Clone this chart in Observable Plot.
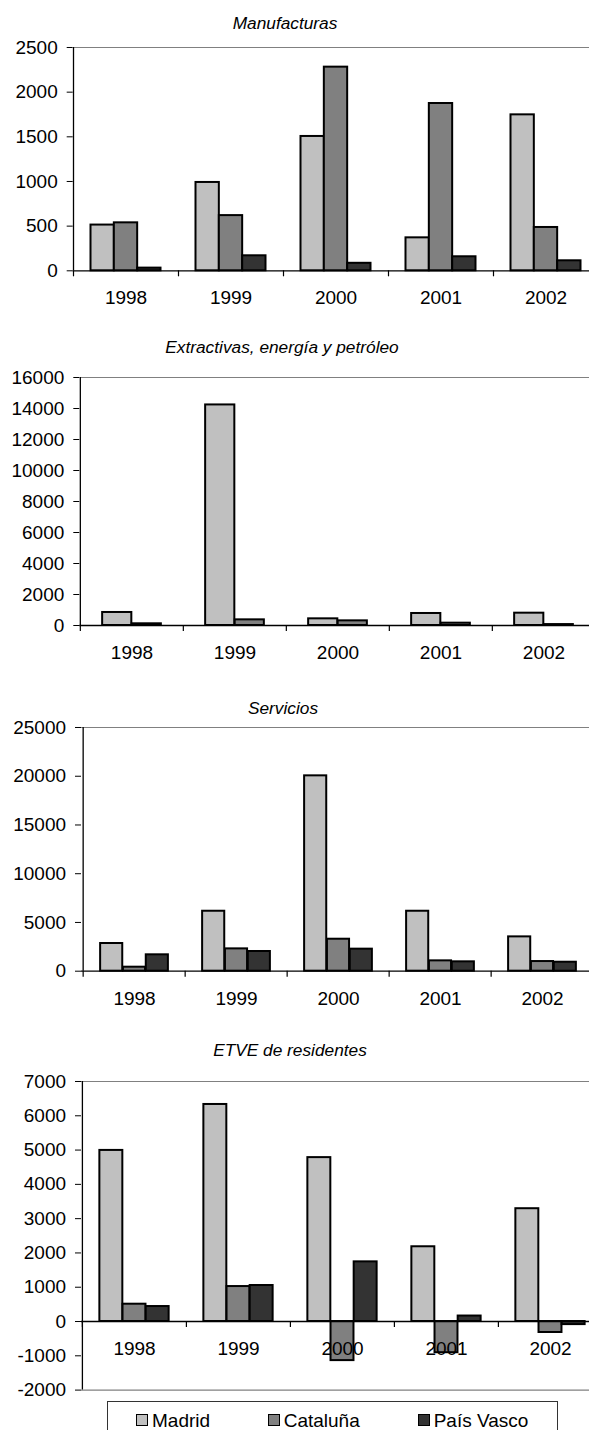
<!DOCTYPE html>
<html>
<head>
<meta charset="utf-8">
<script src="https://cdn.jsdelivr.net/npm/d3@7"></script>
<script src="https://cdn.jsdelivr.net/npm/@observablehq/plot@0.6"></script>
<style>
  html, body { margin: 0; padding: 0; background: #fff; }
  #page { position: relative; width: 589px; height: 1430px; overflow: hidden;
          font-family: "Liberation Sans", Arial, sans-serif; color: #000; }
  .panel { position: absolute; left: 0; width: 610px; }
  .title { position: absolute; font-style: italic; font-size: 17.3px; line-height: 17px;
           white-space: nowrap; transform: translateX(-50%); z-index: 2; }
  .legend { position: absolute; left: 106.7px; top: 1400.7px; width: 451px; height: 45px;
            border: 1px solid #333; box-sizing: border-box; background: #fff; z-index: 2; }
  .legend .item { position: absolute; top: 9px; font-size: 19px; line-height: 19px; white-space: nowrap; }
  .legend .sw { position: absolute; top: 3px; width: 12px; height: 12px; box-sizing: border-box;
                border: 1.5px solid #000; }
  .legend .lab { position: absolute; left: 16px; top: 0; }
</style>
</head>
<body>
<div id="page"></div>
<script>
// Years on the category axis and the three regions
const years = ["1998", "1999", "2000", "2001", "2002"];
const regions = ["Madrid", "Cataluña", "País Vasco"];
const regionColors = ["#c0c0c0", "#808080", "#333333"];

// Manufacturas
const manufacturasMadrid = [512, 989, 1504, 369, 1746];
const manufacturasCataluna = [537, 618, 2280, 1873, 485];
const manufacturasPaisVasco = [30, 168, 84, 157, 112];
const manufacturasTicks = [0, 500, 1000, 1500, 2000, 2500];

// Extractivas, energía y petróleo
const extractivasMadrid = [840, 14230, 430, 775, 795];
const extractivasCataluna = [110, 365, 300, 150, 60];
const extractivasTicks = [0, 2000, 4000, 6000, 8000, 10000, 12000, 14000, 16000];

// Servicios
const serviciosMadrid = [2840, 6150, 20040, 6150, 3520];
const serviciosCataluna = [410, 2290, 3280, 1060, 990];
const serviciosPaisVasco = [1680, 2020, 2260, 960, 920];
const serviciosTicks = [0, 5000, 10000, 15000, 20000, 25000];

// ETVE de residentes
const etveMadrid = [4990, 6330, 4780, 2180, 3290];
const etveCataluna = [505, 1020, -1140, -910, -320];
const etvePaisVasco = [437, 1050, 1740, 160, -90];
const etveTicks = [-2000, -1000, 0, 1000, 2000, 3000, 4000, 5000, 6000, 7000];

// Panel layout (page pixels): plot frame left/right/top/bottom and title placement
const panels = [
  {title: "Manufacturas", ticks: manufacturasTicks,
   series: [["Madrid", manufacturasMadrid], ["Cataluña", manufacturasCataluna], ["País Vasco", manufacturasPaisVasco]],
   left: 72.7, right: 597.7, top: 46.7, bottom: 270, titleX: 285, titleBase: 29.3},
  {title: "Extractivas, energía y petróleo", ticks: extractivasTicks,
   series: [["Madrid", extractivasMadrid], ["Cataluña", extractivasCataluna]],
   left: 79.3, right: 596, top: 377.3, bottom: 625.3, titleX: 282, titleBase: 353.3},
  {title: "Servicios", ticks: serviciosTicks,
   series: [["Madrid", serviciosMadrid], ["Cataluña", serviciosCataluna], ["País Vasco", serviciosPaisVasco]],
   left: 81, right: 594.5, top: 727.3, bottom: 971, titleX: 283, titleBase: 714},
  {title: "ETVE de residentes", ticks: etveTicks,
   series: [["Madrid", etveMadrid], ["Cataluña", etveCataluna], ["País Vasco", etvePaisVasco]],
   left: 81, right: 602, top: 1080.7, bottom: 1389.3, titleX: 290, titleBase: 1056.7}
];

const page = document.getElementById("page");
const fontFamily = '"Liberation Sans", Arial, sans-serif';

function drawPanel(cfg) {
  const n = cfg.series.length;
  const step = (cfg.right - cfg.left) / years.length;
  const bw = step / (n + 1.5);           // bar width, gap between groups = 1.5 bars
  const mTop = 12, mBottom = 45, width = 610;
  const plotH = cfg.bottom - cfg.top;
  const yMin = cfg.ticks[0], yMax = cfg.ticks[cfg.ticks.length - 1];

  const marks = [];
  cfg.series.forEach(([region, values], i) => {
    const rows = years.map((year, j) => ({year, region, value: values[j]}));
    marks.push(Plot.barY(rows, {
      x: "year", y: "value",
      fill: regionColors[regions.indexOf(region)],
      stroke: "#000", strokeWidth: 2,
      insetLeft: (0.75 + i) * bw,
      insetRight: (n - 1 - i + 0.75) * bw
    }));
  });
  // plot-area border (top, and bottom when the range goes below zero)
  marks.push(Plot.ruleY([yMax], {stroke: "#808080", strokeWidth: 1.2}));
  if (yMin < 0) marks.push(Plot.ruleY([yMin], {stroke: "#808080", strokeWidth: 1.2}));
  // category axis line at zero and value axis line
  marks.push(Plot.ruleY([0], {stroke: "#000", strokeWidth: 1.3}));
  marks.push(Plot.ruleX([years[0]], {dx: -step / 2, stroke: "#000", strokeWidth: 1.3}));
  // category tick marks between the year groups
  marks.push(Plot.ruleX(years, {x: d => d, y1: () => 0, y2: () => 0, insetBottom: -6,
                                dx: -step / 2, stroke: "#000", strokeWidth: 1.2}));
  // year labels below the zero line
  marks.push(Plot.text(years, {x: d => d, y: () => 0, dy: 27.5, text: d => d, fill: "#000"}));

  const chart = Plot.plot({
    width, height: mTop + plotH + mBottom,
    marginTop: mTop, marginBottom: mBottom,
    marginLeft: cfg.left, marginRight: width - cfg.right,
    x: {type: "band", domain: years, padding: 0, axis: null},
    y: {domain: [yMin, yMax], ticks: cfg.ticks, tickFormat: d => String(d),
        tickSize: 6, tickPadding: 9.5, label: null},
    style: {fontFamily, fontSize: "19px", background: "transparent",
            overflow: "visible", maxWidth: "none", color: "#000"},
    marks
  });

  const holder = document.createElement("div");
  holder.className = "panel";
  holder.style.top = (cfg.top - mTop) + "px";
  holder.appendChild(chart);
  page.appendChild(holder);

  const t = document.createElement("div");
  t.className = "title";
  t.textContent = cfg.title;
  t.style.left = cfg.titleX + "px";
  t.style.top = (cfg.titleBase - 14.3) + "px";
  page.appendChild(t);
}

panels.forEach(drawPanel);

// legend below the last panel
const legend = document.createElement("div");
legend.className = "legend";
const legendX = [28.3, 160, 310];
regions.forEach((r, i) => {
  const item = document.createElement("div");
  item.className = "item";
  item.style.left = legendX[i] + "px";
  const sw = document.createElement("div");
  sw.className = "sw";
  sw.style.background = regionColors[i];
  const lab = document.createElement("div");
  lab.className = "lab";
  lab.textContent = r;
  item.appendChild(sw);
  item.appendChild(lab);
  legend.appendChild(item);
});
page.appendChild(legend);
</script>
</body>
</html>
